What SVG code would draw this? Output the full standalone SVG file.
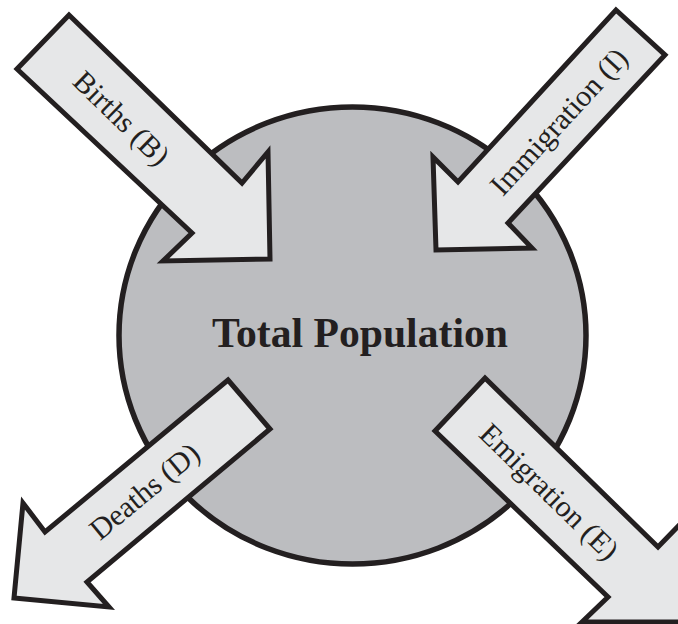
<svg xmlns="http://www.w3.org/2000/svg" width="678" height="624" viewBox="0 0 678 624">
  <style>
    .bg { fill: #ffffff; }
    .pop { fill: #bcbdc0; stroke: #231f20; stroke-width: 5.5; }
    .arrow { fill: #e6e7e8; stroke: #231f20; stroke-width: 5; stroke-linejoin: miter; stroke-miterlimit: 10; }
    .title { font-family: "Liberation Serif", "Times New Roman", serif; font-weight: bold; font-size: 43px; fill: #231f20; }
    .lbl { font-family: "Liberation Serif", "Times New Roman", serif; font-size: 30px; fill: #231f20; text-anchor: middle; }
  </style>
  <rect class="bg" x="0" y="0" width="678" height="624"/>
  <g id="total-population">
    <ellipse class="pop" cx="352.5" cy="335.5" rx="233.5" ry="228.5"/>
    <text class="title" x="212" y="347" textLength="296" lengthAdjust="spacingAndGlyphs">Total Population</text>
  </g>
  <g id="connectors">
    <g id="births">
      <polygon class="arrow" points="69,15 242,183 268,152 270,259 163,261 192,233 17,69"/>
      <text class="lbl" transform="translate(121.5,118.3) rotate(44.2)" y="10">Births (B)</text>
    </g>
    <g id="immigration">
      <polygon class="arrow" points="616,10 665,55 508,223 532,248 436,250 433,157 458,182"/>
      <text class="lbl" transform="translate(558.7,121.5) rotate(-47.4)" y="10">Immigration (I)</text>
    </g>
    <g id="deaths">
      <polygon class="arrow" points="228,380 270,429 87,582 109,607 14,598 23,503 45,532"/>
      <text class="lbl" transform="translate(144.5,491.3) rotate(-39.7)" y="10">Deaths (D)</text>
    </g>
    <g id="emigration">
      <polygon class="arrow" points="485,378 658,547 690,514 692,622 582,622 608,597 435,431"/>
      <text class="lbl" transform="translate(549.2,491.7) rotate(44.3)" y="10">Emigration (E)</text>
    </g>
  </g>
</svg>
